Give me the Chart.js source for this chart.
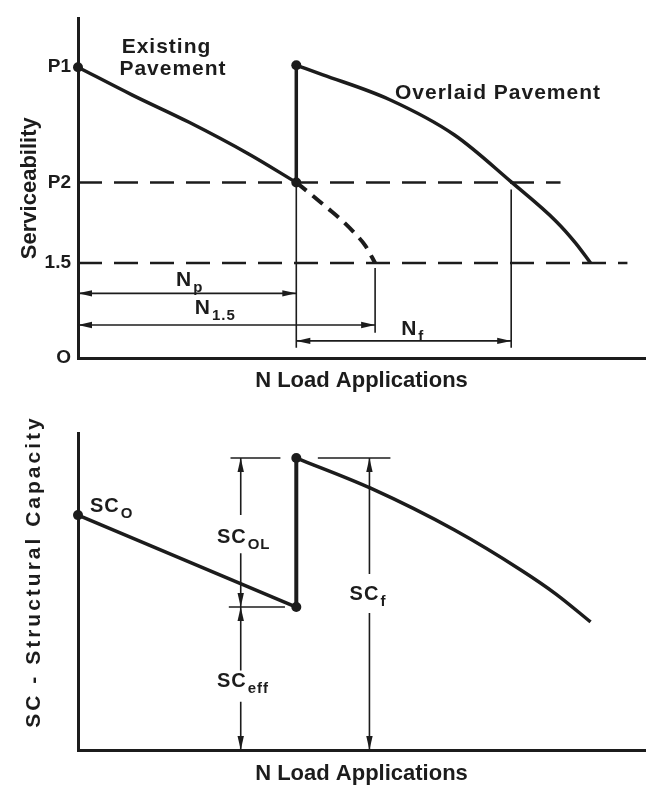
<!DOCTYPE html>
<html>
<head>
<meta charset="utf-8">
<script src="https://cdn.jsdelivr.net/npm/chart.js@4.4.0/dist/chart.umd.min.js"></script>
<style>
  html, body { margin: 0; padding: 0; background: #fff; }
  canvas { display: block; }
</style>
</head>
<body>
<canvas id="top" width="650" height="395"></canvas>
<canvas id="bottom" width="650" height="397"></canvas>
<script>
// ---- top panel: serviceability vs load applications ----
const existingN = [0, 9.6, 19.6, 30.1, 38.5];
const existingPSI = [4.59, 4.15, 3.72, 3.22, 2.77];
const projectedN = [38.5, 41.4, 44.1, 46.7, 48.8, 50.7, 52.4];
const projectedPSI = [2.77, 2.56, 2.36, 2.16, 1.97, 1.77, 1.5];
const overlayN = [38.5, 43.2, 54.9, 66.4, 76.4, 84.3, 87.8, 90.4];
const overlayPSI = [4.62, 4.47, 4.08, 3.52, 2.78, 2.16, 1.81, 1.5];
const psiTicks = [0, 1.5, 2.77, 4.59];
const psiTickLabels = ['O', '1.5', 'P2', 'P1'];
const P1 = 4.59, P2 = 2.77, terminalPSI = 1.5;
const Np = 38.5, N15 = 52.4, NpNf = 76.4;

// ---- bottom panel: structural capacity ----
const scExistingN = [0, 38.5];
const scExisting = [7.41, 4.51];
const scOverlayN = [38.5, 51.6, 66.4, 78.1, 84.3, 90.4];
const scOverlay = [9.21, 8.26, 6.94, 5.68, 4.92, 4.04];

const INK = '#1c1c1c';
const FONT = 'Liberation Sans';

const pts = (xs, ys) => xs.map((v, i) => ({ x: v, y: ys[i] }));

// plain line dataset helper
const line = (data, extra) => Object.assign({
  data, showLine: true, borderColor: INK, backgroundColor: INK,
  borderWidth: 3.5, pointRadius: 0, tension: 0, clip: false
}, extra);

const curve = (data, extra) => line(data, Object.assign({ cubicInterpolationMode: 'monotone' }, extra));

const dots = (data) => ({
  data, showLine: false, pointRadius: 5, pointBackgroundColor: INK,
  pointBorderColor: INK, borderWidth: 0, clip: false
});

function head(ctx, x, y, dx, dy) {
  const L = 14, W = 3.2;
  ctx.beginPath();
  ctx.moveTo(x, y);
  ctx.lineTo(x - dx * L - dy * W, y - dy * L + dx * W);
  ctx.lineTo(x - dx * L + dy * W, y - dy * L - dx * W);
  ctx.closePath();
  ctx.fill();
}

function drawArrow(ctx, xs, ys, a) {
  const x1 = xs.getPixelForValue(a.from[0]), y1 = ys.getPixelForValue(a.from[1]);
  const x2 = xs.getPixelForValue(a.to[0]), y2 = ys.getPixelForValue(a.to[1]);
  const len = Math.hypot(x2 - x1, y2 - y1);
  const dx = (x2 - x1) / len, dy = (y2 - y1) / len;
  ctx.beginPath();
  if (a.gap) {
    const g1 = ys.getPixelForValue(a.gap[0]), g2 = ys.getPixelForValue(a.gap[1]);
    ctx.moveTo(x1, y1); ctx.lineTo(x1, g1);
    ctx.moveTo(x2, g2); ctx.lineTo(x2, y2);
  } else {
    ctx.moveTo(x1, y1); ctx.lineTo(x2, y2);
  }
  ctx.stroke();
  head(ctx, x1, y1, -dx, -dy);
  head(ctx, x2, y2, dx, dy);
}

function drawLabel(ctx, xs, ys, l) {
  const x = xs.getPixelForValue(l.at[0]), y = ys.getPixelForValue(l.at[1]);
  const size = l.size || 21;
  ctx.textAlign = 'left';
  ctx.textBaseline = 'alphabetic';
  ctx.letterSpacing = '1px';
  ctx.font = `bold ${size}px "${FONT}"`;
  ctx.fillText(l.text, x, y);
  if (l.sub) {
    const w = ctx.measureText(l.text).width;
    ctx.font = `bold 15px "${FONT}"`;
    ctx.fillText(l.sub, x + w + 1, y + 6);
  }
}

const notes = {
  id: 'notes',
  afterDatasetsDraw(chart, args, opts) {
    const { ctx, scales: { x, y }, chartArea } = chart;
    ctx.save();
    ctx.strokeStyle = INK;
    ctx.fillStyle = INK;
    ctx.lineWidth = 1.6;
    (opts.arrows || []).forEach(a => drawArrow(ctx, x, y, a));
    (opts.labels || []).forEach(l => drawLabel(ctx, x, y, l));
    if (opts.yTitle) {
      ctx.translate(chartArea.left - 44, (chartArea.top + chartArea.bottom) / 2 - 20);
      ctx.rotate(-Math.PI / 2);
      ctx.font = `bold 21px "${FONT}"`;
      ctx.letterSpacing = '3px';
      ctx.textAlign = 'center';
      ctx.textBaseline = 'middle';
      ctx.fillText(opts.yTitle, 0, 0);
    }
    ctx.restore();
  }
};

const xAxis = (h, padBottom) => ({
  type: 'linear', min: 0, max: 100,
  grid: { display: false, drawTicks: false },
  border: { display: true, color: INK, width: 3 },
  ticks: { display: false },
  title: {
    display: true, text: 'N Load Applications', color: INK,
    font: { family: FONT, size: 22, weight: 'bold' }, padding: { top: 0, bottom: padBottom }
  },
  afterFit: (s) => { s.height = h; }
});

const baseOptions = {
  responsive: false,
  animation: false,
  events: [],
  plugins: { legend: { display: false }, tooltip: { enabled: false } }
};

new Chart(document.getElementById('top'), {
  type: 'scatter',
  data: {
    datasets: [
      line(pts([0, 85.1], [P2, P2]), { borderWidth: 2.5, borderDash: [24, 12] }),
      line(pts([0, 96.9], [terminalPSI, terminalPSI]), { borderWidth: 2.5, borderDash: [24, 12] }),
      line(pts([Np, Np], [P2, 0.16]), { borderWidth: 1.6 }),
      line(pts([N15, N15], [1.42, 0.4]), { borderWidth: 1.6 }),
      line(pts([NpNf, NpNf], [2.66, 0.16]), { borderWidth: 1.6 }),
      curve(pts(existingN, existingPSI)),
      curve(pts(projectedN, projectedPSI), { borderWidth: 4, borderDash: [13, 8] }),
      line(pts([Np, Np], [P2, overlayPSI[0]])),
      curve(pts(overlayN, overlayPSI)),
      dots(pts([0, Np, Np], [P1, P2, overlayPSI[0]]))
    ]
  },
  options: Object.assign({}, baseOptions, {
    layout: { padding: { top: 15, left: 0, right: 0, bottom: 0 } },
    scales: {
      x: xAxis(37, 1),
      y: {
        type: 'linear', min: 0, max: 5.36,
        grid: { display: false, drawTicks: false },
        border: { display: true, color: INK, width: 3 },
        afterBuildTicks: (s) => { s.ticks = psiTicks.map(v => ({ value: v })); },
        ticks: {
          autoSkip: false, padding: 7, color: INK,
          font: { family: FONT, size: 19, weight: 'bold' },
          callback: (v) => psiTickLabels[psiTicks.indexOf(v)]
        },
        title: {
          display: true, text: 'Serviceability', color: INK,
          font: { family: FONT, size: 22, weight: 'bold' }, padding: { top: 17 }
        },
        afterFit: (s) => { s.width = 78; }
      }
    },
    plugins: Object.assign({}, baseOptions.plugins, {
      notes: {
        arrows: [
          { from: [0, 1.02], to: [Np, 1.02] },
          { from: [0, 0.52], to: [N15, 0.52] },
          { from: [Np, 0.27], to: [NpNf, 0.27] }
        ],
        labels: [
          { text: 'Existing', at: [7.7, 4.81] },
          { text: 'Pavement', at: [7.3, 4.47] },
          { text: 'Overlaid Pavement', at: [55.9, 4.08] },
          { text: 'N', sub: 'p', at: [17.3, 1.14] },
          { text: 'N', sub: '1.5', at: [20.6, 0.70] },
          { text: 'N', sub: 'f', at: [57.0, 0.36] }
        ]
      }
    })
  }),
  plugins: [notes]
});

new Chart(document.getElementById('bottom'), {
  type: 'scatter',
  data: {
    datasets: [
      line(pts([26.9, 35.7], [scOverlay[0], scOverlay[0]]), { borderWidth: 1.6 }),
      line(pts([42.3, 55.1], [scOverlay[0], scOverlay[0]]), { borderWidth: 1.6 }),
      line(pts([26.6, 36.5], [scExisting[1], scExisting[1]]), { borderWidth: 1.6 }),
      line(pts(scExistingN, scExisting)),
      line(pts([Np, Np], [scExisting[1], scOverlay[0]]), { borderWidth: 4 }),
      curve(pts(scOverlayN, scOverlay)),
      dots(pts([0, Np, Np], [scExisting[0], scExisting[1], scOverlay[0]]))
    ]
  },
  options: Object.assign({}, baseOptions, {
    layout: { padding: { top: 38, left: 0, right: 0, bottom: 0 } },
    scales: {
      x: xAxis(42, 5),
      y: {
        type: 'linear', min: 0, max: 10,
        grid: { display: false, drawTicks: false },
        border: { display: true, color: INK, width: 3 },
        ticks: { display: false },
        afterFit: (s) => { s.width = 78; }
      }
    },
    plugins: Object.assign({}, baseOptions.plugins, {
      notes: {
        yTitle: 'SC - Structural Capacity',
        arrows: [
          { from: [28.7, scOverlay[0]], to: [28.7, scExisting[1]], gap: [7.41, 6.21] },
          { from: [28.7, scExisting[1]], to: [28.7, 0], gap: [2.51, 1.52] },
          { from: [51.4, scOverlay[0]], to: [51.4, 0], gap: [5.55, 4.32] }
        ],
        labels: [
          { text: 'SC', sub: 'O', size: 20, at: [2.1, 7.51] },
          { text: 'SC', sub: 'OL', size: 20, at: [24.5, 6.53] },
          { text: 'SC', sub: 'eff', size: 20, at: [24.5, 1.99] },
          { text: 'SC', sub: 'f', size: 20, at: [47.9, 4.73] }
        ]
      }
    })
  }),
  plugins: [notes]
});
</script>
</body>
</html>
